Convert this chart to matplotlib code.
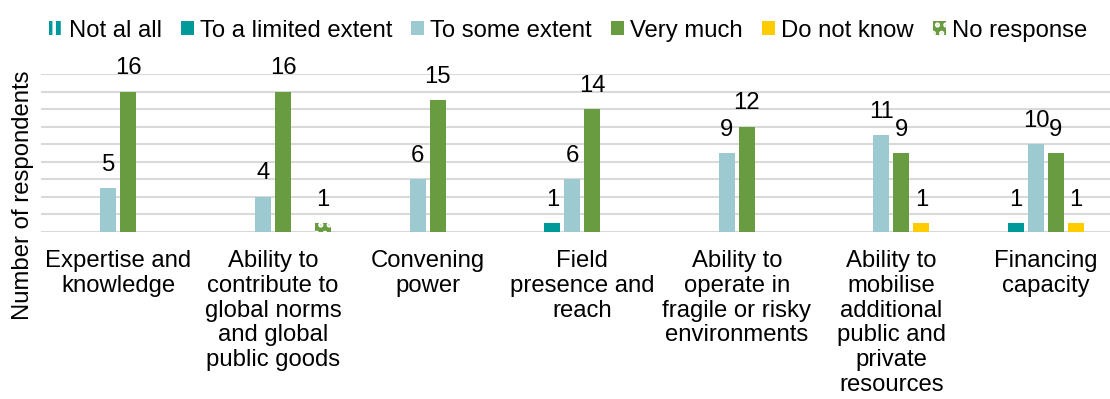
import matplotlib
matplotlib.use('Agg')
import matplotlib.pyplot as plt
import numpy as np

plt.rcParams['font.family'] = ['Liberation Sans', 'DejaVu Sans']
plt.rcParams['hatch.linewidth'] = 2.5

categories = ['Expertise and\nknowledge',
              'Ability to\ncontribute to\nglobal norms\nand global\npublic goods',
              'Convening\npower',
              'Field\npresence and\nreach',
              'Ability to\noperate in\nfragile or risky\nenvironments',
              'Ability to\nmobilise\nadditional\npublic and\nprivate\nresources',
              'Financing\ncapacity']

series = ['Not al all', 'To a limited extent', 'To some extent',
          'Very much', 'Do not know', 'No response']

not_at_all = [0, 0, 0, 0, 0, 0, 0]
limited = [0, 0, 0, 1, 0, 0, 1]
some = [5, 4, 6, 6, 9, 11, 10]
very_much = [16, 16, 15, 14, 12, 9, 9]
dont_know = [0, 0, 0, 0, 0, 1, 1]
no_response = [0, 1, 0, 0, 0, 0, 0]

values = [not_at_all, limited, some, very_much, dont_know, no_response]
colors = ['#009999', '#009999', '#9DC9D1', '#699B41', '#FFCC00', '#699B41']
hatches = ['||', None, None, None, None, '..']

fs = 17.2

fig = plt.figure(figsize=(11.1, 3.99), dpi=100)
ax = fig.add_axes([0.037, 0.4185, 0.975, 0.396])

x = np.arange(len(categories))
pitch = 0.129
width = 0.104

for i, (name, vals) in enumerate(zip(series, values)):
    pos = x + (i - 2.5) * pitch
    bars = ax.bar(pos, vals, width, color=colors[i], label=name,
                  hatch=hatches[i], edgecolor='white' if hatches[i] else colors[i],
                  linewidth=0, zorder=3)
    for b, v in zip(bars, vals):
        if v > 0:
            ax.annotate(str(v), (b.get_x() + b.get_width() / 2, v),
                        xytext=(0, 9), textcoords='offset points',
                        ha='center', va='bottom', fontsize=fs)

ax.set_xlim(-0.5, len(categories) - 0.5)
ax.set_ylim(0, 18)
ax.set_yticks(np.arange(0, 19, 2))
ax.set_yticklabels([])
ax.grid(axis='y', color='#D9D9D9', linewidth=1.5, zorder=0)
ax.tick_params(axis='both', length=0)
ax.tick_params(axis='x', pad=13)
ax.set_xticks(x)
ax.set_xticklabels(categories, fontsize=fs, linespacing=1.16)
for s in ax.spines.values():
    s.set_visible(False)

fig.text(0.021, 0.51, 'Number of respondents', rotation=90,
         ha='center', va='center', fontsize=fs)

fig.legend(loc='upper center', bbox_to_anchor=(0.512, 1.005), ncol=6,
           frameon=False, fontsize=fs, handlelength=0.55, handleheight=0.55,
           handletextpad=0.25, columnspacing=0.8)

fig.savefig('out.png', dpi=100)
